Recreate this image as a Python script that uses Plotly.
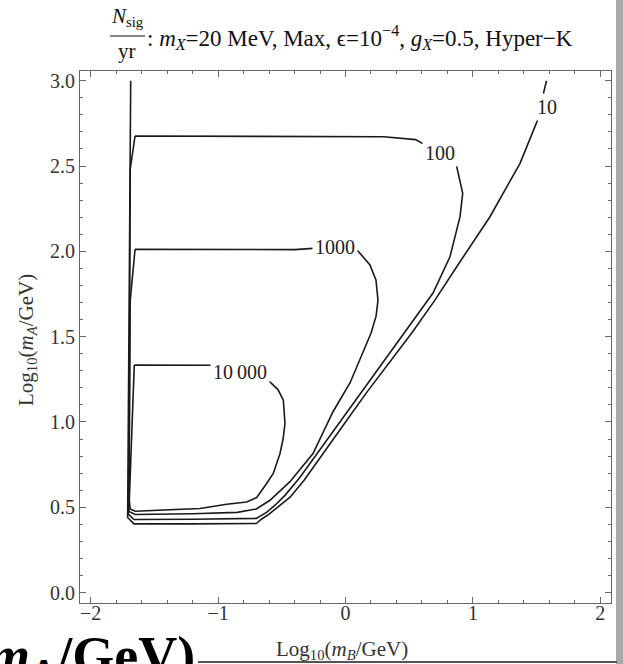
import plotly.graph_objects as go

# ---------------- data ----------------
levels = ["10 000", "1000", "100", "10"]

c10000_x = [-1.658, -1.30, -1.04, -0.828, -0.593, -0.530, -0.488, -0.475, -0.490, -0.514, -0.567,
            -0.619, -0.697, -0.776, -0.933, -1.142, -1.40, -1.650, -1.690, -1.697, -1.658]
c10000_y = [1.334, 1.334, 1.332, 1.292, 1.235, 1.190, 1.128, 0.991, 0.900, 0.815, 0.698,
            0.639, 0.557, 0.531, 0.518, 0.493, 0.485, 0.477, 0.490, 0.541, 1.334]

c1000_x = [-1.652, -1.0, -0.4, -0.08, 0.098, 0.192, 0.239, 0.255, 0.240, 0.200, 0.130, 0.036,
           -0.098, -0.255, -0.436, -0.593, -0.70, -0.85, -1.2, -1.65, -1.70, -1.697, -1.69, -1.652]
c1000_y = [2.012, 2.012, 2.010, 2.026, 2.002, 1.920, 1.832, 1.714, 1.620, 1.520, 1.400, 1.230,
           1.060, 0.815, 0.650, 0.541, 0.490, 0.470, 0.462, 0.458, 0.475, 1.0, 1.71, 2.012]

c100_x = [-1.652, -1.0, 0.0, 0.30, 0.55, 0.742, 0.867, 0.920, 0.899, 0.820, 0.687, 0.506, 0.326,
          0.153, -0.043, -0.216, -0.357, -0.475, -0.553, -0.62, -0.70, -1.2, -1.66, -1.705,
          -1.697, -1.69, -1.652]
c100_y = [2.676, 2.676, 2.675, 2.672, 2.655, 2.576, 2.516, 2.340, 2.203, 1.968, 1.756, 1.569, 1.387,
          1.205, 0.999, 0.823, 0.676, 0.570, 0.512, 0.470, 0.435, 0.430, 0.428, 0.460,
          1.0, 2.48, 2.676]

c10_x = [1.578, 1.555, 1.579, 1.514, 1.370, 1.134, 0.873, 0.702, 0.520, 0.349, 0.168, -0.012,
         -0.184, -0.325, -0.435, -0.530, -0.60, -0.66, -0.70, -1.2, -1.66, -1.71, -1.70, -1.686]
c10_y = [3.0, 2.93, 2.848, 2.780, 2.516, 2.203, 1.910, 1.714, 1.521, 1.351, 1.175, 0.987,
         0.805, 0.659, 0.559, 0.500, 0.460, 0.430, 0.405, 0.403, 0.403, 0.440, 1.5, 3.0]

label_x = [-0.828, -0.08, 0.742, 1.579]
label_y = [1.292, 2.026, 2.576, 2.848]

x_ticks = [-2, -1, 0, 1, 2]
y_ticks = [0.0, 0.5, 1.0, 1.5, 2.0, 2.5, 3.0]

x_title = "Log<sub>10</sub>(<i>m</i><sub><i>B</i></sub>/GeV)"
y_title = "Log<sub>10</sub>(<i>m</i><sub><i>A</i></sub>/GeV)"

# ---------------- figure ----------------
W, H = 623, 664
L, R, T, B = 80, 611, 71, 603


def px(x):
    return (x - L) / (R - L)


def py(y):
    return (B - y) / (B - T)


SERIF = "Liberation Serif"
line_col = "#1a1a1a"

fig = go.Figure()
for xs, ys in [(c10000_x, c10000_y), (c1000_x, c1000_y), (c100_x, c100_y), (c10_x, c10_y)]:
    fig.add_trace(go.Scatter(x=xs, y=ys, mode="lines",
                             line=dict(color=line_col, width=1.6),
                             hoverinfo="skip", showlegend=False))

annotations = []
for lx, ly, txt in zip(label_x, label_y, levels):
    annotations.append(dict(x=lx, y=ly, xref="x", yref="y", text=txt.replace(" ", "\u2009"),
                            showarrow=False, bgcolor="white", borderpad=2,
                            font=dict(family=SERIF, size=20, color="#222")))

# title (fraction + text), axis titles, cropped overlay text
annotations += [
    dict(x=px(127), y=py(17), xref="paper", yref="paper", text="<i>N</i><sub>sig</sub>",
         showarrow=False, xanchor="center", yanchor="middle",
         font=dict(family=SERIF, size=21, color="#111")),
    dict(x=px(127), y=py(51), xref="paper", yref="paper", text="yr",
         showarrow=False, xanchor="center", yanchor="middle",
         font=dict(family=SERIF, size=21, color="#111")),
    dict(x=px(145), y=py(37), xref="paper", yref="paper",
         text=": <i>m</i><sub><i>X</i></sub>=20 MeV, Max, \u03f5=10<sup>\u22124</sup>, "
              "<i>g</i><sub><i>X</i></sub>=0.5, Hyper\u2212K",
         showarrow=False, xanchor="left", yanchor="middle",
         font=dict(family=SERIF, size=23, color="#111")),
    dict(x=px(342), y=py(650), xref="paper", yref="paper", text=x_title,
         showarrow=False, xanchor="center", yanchor="middle",
         font=dict(family=SERIF, size=21, color="#333")),
    dict(x=px(27), y=py(340), xref="paper", yref="paper", text=y_title, textangle=-90,
         showarrow=False, xanchor="center", yanchor="middle",
         font=dict(family=SERIF, size=21, color="#333")),
    dict(x=px(197), y=py(624), xref="paper", yref="paper",
         text="<b><i>m</i><sub>A</sub>/GeV)</b>",
         showarrow=False, xanchor="right", yanchor="top",
         font=dict(family=SERIF, size=54, color="#000")),
]

shapes = [
    dict(type="line", xref="paper", yref="paper", x0=px(110), x1=px(145), y0=py(36), y1=py(36),
         line=dict(color="#111", width=1)),
    # screenshot border (right strip and bottom line)
    dict(type="rect", xref="paper", yref="paper", x0=px(616), x1=px(624), y0=py(-2), y1=py(666),
         fillcolor="#a9a9a9", line=dict(width=0)),
    dict(type="line", xref="paper", yref="paper", x0=px(198), x1=px(617), y0=py(662), y1=py(662),
         line=dict(color="#555", width=2)),
]

axis_common = dict(
    showgrid=False, zeroline=False, showline=True, linecolor="#666", linewidth=1,
    mirror="ticks", ticks="inside", ticklen=6, tickcolor="#666", tickwidth=1,
    tickfont=dict(family=SERIF, size=20, color="#333"), automargin=False,
)

fig.update_layout(
    width=W, height=H,
    margin=dict(l=L, r=W - R, t=T, b=H - B, autoexpand=False),
    paper_bgcolor="white", plot_bgcolor="white",
    xaxis=dict(range=[-2.084, 2.084], tickvals=x_ticks, ticklabelstandoff=-8, **axis_common,
               minor=dict(dtick=0.2, tick0=0, ticks="inside", ticklen=3, tickcolor="#666")),
    yaxis=dict(range=[-0.061, 3.057], tickvals=y_ticks, tickformat=".1f", **axis_common,
               minor=dict(dtick=0.1, tick0=0, ticks="inside", ticklen=3, tickcolor="#666")),
    annotations=annotations,
    shapes=shapes,
)

fig.write_html("out.html")
